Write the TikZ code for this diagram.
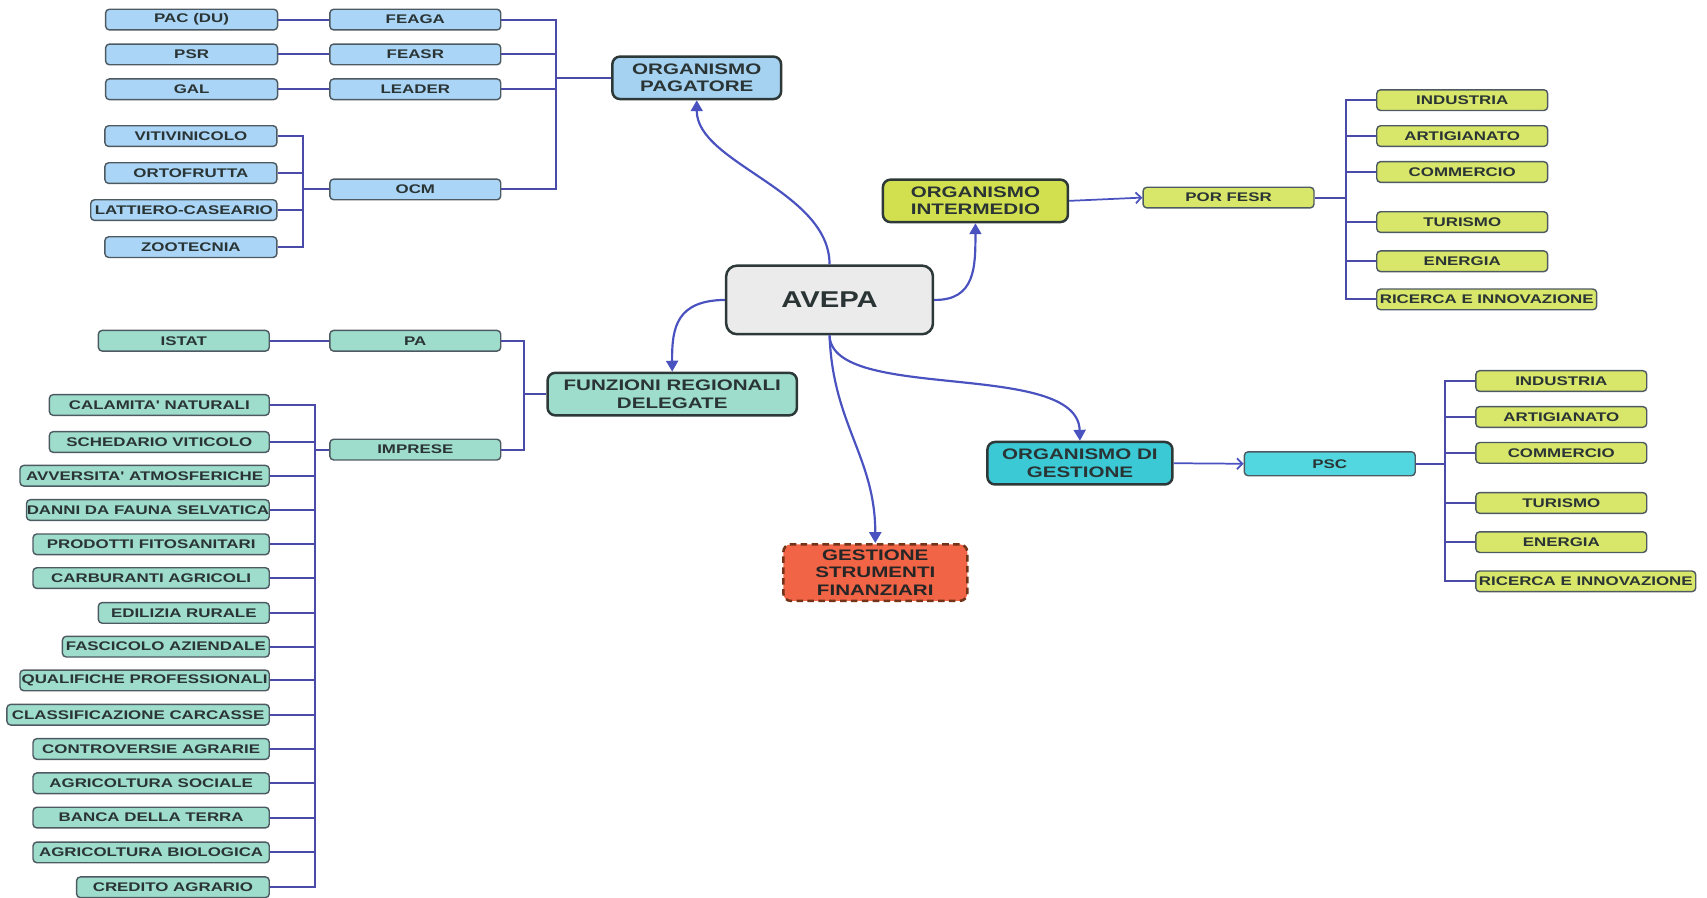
\documentclass[tikz,border=0pt]{standalone}
\usepackage{fontspec}
\usetikzlibrary{arrows.meta}
\newfontfamily\boxfont{Liberation Sans}[FakeStretch=1.35]
\newfontfamily\avfont{Liberation Sans}[FakeStretch=1.28]
\definecolor{blueF}{HTML}{AAD5F6}
\definecolor{blueM}{HTML}{A6D2F2}
\definecolor{tealF}{HTML}{9EDCCB}
\definecolor{yelF}{HTML}{D8E66A}
\definecolor{yelM}{HTML}{D2E04F}
\definecolor{cyanF}{HTML}{52D6E0}
\definecolor{cyanM}{HTML}{3CC9D6}
\definecolor{redF}{HTML}{F26446}
\definecolor{avF}{HTML}{EBEBEB}
\definecolor{bordS}{HTML}{4E5A62}
\definecolor{bordM}{HTML}{2D3838}
\definecolor{txt}{HTML}{2A3434}
\definecolor{linec}{HTML}{4A4AA8}
\definecolor{arrc}{HTML}{4A52C0}
\tikzset{
  box/.style={draw=bordS, line width=1.3pt, rounded corners=3.5pt, minimum height=19pt,
    inner sep=0pt, text=txt, font=\boxfont\fontsize{11.5}{13}\selectfont\bfseries},
  bbox/.style={box, fill=blueF},
  tbox/.style={box, fill=tealF},
  ybox/.style={box, fill=yelF},
  cbox/.style={box, fill=cyanF},
  mainbox/.style={draw=bordM, line width=2.3pt, rounded corners=7pt, minimum height=39pt,
    inner sep=0pt, align=center, text=txt, font=\boxfont\fontsize{14}{16}\selectfont\bfseries},
  tree/.style={draw=linec, line width=1.8pt},
  arr/.style={draw=arrc, line width=2pt, -{Triangle[width=11pt,length=10pt]}},
  sarr/.style={draw=arrc, line width=1.6pt, -{Straight Barb[width=10pt,length=5pt]}}
}
\begin{document}
\begin{tikzpicture}[x=1pt,y=-1pt]
\useasboundingbox (0,0) rectangle (1568,824);

% central
\node[mainbox, fill=avF, minimum width=190pt, minimum height=63pt, rounded corners=10pt,
  font=\avfont\fontsize{21}{24}\selectfont\bfseries] (avepa) at (762,275.5) {AVEPA};

% ORGANISMO PAGATORE
\node[mainbox, fill=blueM, minimum width=155pt] (op) at (640,71.5) {ORGANISMO\\PAGATORE};
\node[bbox, minimum width=158pt] (pac) at (176,18) {PAC (DU)};
\node[bbox, minimum width=158pt] (psr) at (176,50) {PSR};
\node[bbox, minimum width=158pt] (gal) at (176,82) {GAL};
\node[bbox, minimum width=157pt] (feaga) at (381.5,18) {FEAGA};
\node[bbox, minimum width=157pt] (feasr) at (381.5,50) {FEASR};
\node[bbox, minimum width=157pt] (leader) at (381.5,82) {LEADER};
\node[bbox, minimum width=157pt] (ocm) at (381.5,174) {OCM};
\node[bbox, minimum width=158pt, anchor=east] (viti) at (255,125) {VITIVINICOLO};
\node[bbox, minimum width=158pt, anchor=east] (orto) at (255,159) {ORTOFRUTTA};
\node[bbox, minimum width=171pt, anchor=east] (latt) at (255,193) {LATTIERO-CASEARIO};
\node[bbox, minimum width=158pt, anchor=east] (zoo) at (255,227) {ZOOTECNIA};
\coordinate (opj) at (511,71.5);
\coordinate (ocmj) at (278,174);
\draw[tree] (pac) -- (feaga);
\draw[tree] (psr) -- (feasr);
\draw[tree] (gal) -- (leader);
\foreach \n in {feaga,feasr,leader,ocm} \draw[tree] (\n.east) -| (opj);
\draw[tree] (opj) -- (op.west);
\foreach \n in {viti,orto,latt,zoo} \draw[tree] (\n.east) -| (ocmj);
\draw[tree] (ocmj) -- (ocm.west);

% ORGANISMO INTERMEDIO
\node[mainbox, fill=yelM, minimum width=170pt] (oi) at (896,184.5) {ORGANISMO\\INTERMEDIO};
\node[ybox, minimum width=157pt] (por) at (1128.5,181.5) {POR FESR};
\node[ybox, minimum width=157pt, anchor=west] (f1) at (1264,92) {INDUSTRIA};
\node[ybox, minimum width=157pt, anchor=west] (f2) at (1264,125) {ARTIGIANATO};
\node[ybox, minimum width=157pt, anchor=west] (f3) at (1264,158) {COMMERCIO};
\node[ybox, minimum width=157pt, anchor=west] (f4) at (1264,204) {TURISMO};
\node[ybox, minimum width=157pt, anchor=west] (f5) at (1264,240) {ENERGIA};
\node[ybox, minimum width=202pt, anchor=west] (f6) at (1264,275) {RICERCA E INNOVAZIONE};
\coordinate (fj) at (1236,181.5);
\draw[sarr] (oi.east) -- (por.west);
\draw[tree] (por.east) -- (fj);
\foreach \n in {f1,f2,f3,f4,f5,f6} \draw[tree] (fj) |- (\n.west);

% FUNZIONI REGIONALI DELEGATE
\node[mainbox, fill=tealF, minimum width=229pt] (frd) at (617.5,362) {FUNZIONI REGIONALI\\DELEGATE};
\node[tbox, minimum width=157pt] (pa) at (381.5,313) {PA};
\node[tbox, minimum width=157pt] (imp) at (381.5,413) {IMPRESE};
\node[tbox, minimum width=157pt, anchor=east] (istat) at (248,313) {ISTAT};
\draw[tree] (istat) -- (pa);
\coordinate (frdj) at (481,362);
\draw[tree] (pa.east) -| (frdj);
\draw[tree] (imp.east) -| (frdj);
\draw[tree] (frdj) -- (frd.west);
\node[tbox, minimum width=202pt, anchor=east] (i1) at (248,372) {CALAMITA' NATURALI};
\node[tbox, minimum width=202pt, anchor=east] (i2) at (248,406) {SCHEDARIO VITICOLO};
\node[tbox, minimum width=229pt, anchor=east] (i3) at (248,437) {AVVERSITA' ATMOSFERICHE};
\node[tbox, minimum width=223pt, anchor=east] (i4) at (248,468.5) {DANNI DA FAUNA SELVATICA};
\node[tbox, minimum width=217pt, anchor=east] (i5) at (248,500) {PRODOTTI FITOSANITARI};
\node[tbox, minimum width=217pt, anchor=east] (i6) at (248,531) {CARBURANTI AGRICOLI};
\node[tbox, minimum width=157pt, anchor=east] (i7) at (248,563) {EDILIZIA RURALE};
\node[tbox, minimum width=190pt, anchor=east] (i8) at (248,594) {FASCICOLO AZIENDALE};
\node[tbox, minimum width=229pt, anchor=east] (i9) at (248,625) {QUALIFICHE PROFESSIONALI};
\node[tbox, minimum width=241pt, anchor=east] (i10) at (248,656.5) {CLASSIFICAZIONE CARCASSE};
\node[tbox, minimum width=217pt, anchor=east] (i11) at (248,688) {CONTROVERSIE AGRARIE};
\node[tbox, minimum width=217pt, anchor=east] (i12) at (248,719.5) {AGRICOLTURA SOCIALE};
\node[tbox, minimum width=217pt, anchor=east] (i13) at (248,751) {BANCA DELLA TERRA};
\node[tbox, minimum width=217pt, anchor=east] (i14) at (248,783) {AGRICOLTURA BIOLOGICA};
\node[tbox, minimum width=177pt, anchor=east] (i15) at (248,815) {CREDITO AGRARIO};
\coordinate (impj) at (289,413);
\draw[tree] (imp.west) -- (impj);
\foreach \n in {i1,i2,i3,i4,i5,i6,i7,i8,i9,i10,i11,i12,i13,i14,i15} \draw[tree] (\n.east) -| (impj);

% ORGANISMO DI GESTIONE
\node[mainbox, fill=cyanM, minimum width=170pt] (og) at (992,425.5) {ORGANISMO DI\\GESTIONE};
\node[cbox, minimum width=157pt, minimum height=22pt] (psc) at (1221.5,426) {PSC};
\node[ybox, minimum width=157pt, anchor=west] (p1) at (1355,350) {INDUSTRIA};
\node[ybox, minimum width=157pt, anchor=west] (p2) at (1355,383) {ARTIGIANATO};
\node[ybox, minimum width=157pt, anchor=west] (p3) at (1355,416) {COMMERCIO};
\node[ybox, minimum width=157pt, anchor=west] (p4) at (1355,462) {TURISMO};
\node[ybox, minimum width=157pt, anchor=west] (p5) at (1355,498) {ENERGIA};
\node[ybox, minimum width=202pt, anchor=west] (p6) at (1355,534) {RICERCA E INNOVAZIONE};
\coordinate (pj) at (1327,426);
\draw[sarr] (og.east) -- (psc.west);
\draw[tree] (psc.east) -- (pj);
\foreach \n in {p1,p2,p3,p4,p5,p6} \draw[tree] (pj) |- (\n.west);

% GESTIONE STRUMENTI FINANZIARI
\node[mainbox, fill=redF, draw=black!75!red!60!brown, dash pattern=on 6pt off 4pt,
  minimum width=169pt, minimum height=52pt, text=black!85] (gsf) at (804,526) {GESTIONE\\STRUMENTI\\FINANZIARI};

% arrows from AVEPA
\draw[arr] (avepa.north) .. controls (762,175) and (640,150) .. (op.south);
\draw[arr] (avepa.east) .. controls (896,276) and (896,245) .. (oi.south);
\draw[arr] (avepa.west) .. controls (622,276) and (617,300) .. (frd.north);
\draw[arr] (avepa.south) .. controls (764,370) and (990,330) .. (og.north);
\draw[arr] (avepa.south) .. controls (765,390) and (804,420) .. (gsf.north);
\end{tikzpicture}
\end{document}
